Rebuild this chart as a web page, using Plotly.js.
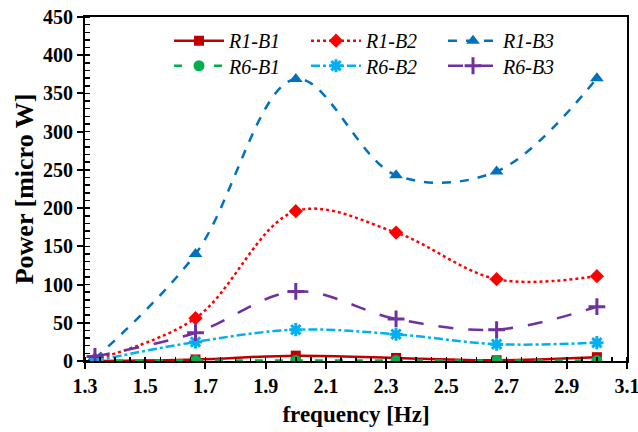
<!DOCTYPE html>
<html>
<head>
<meta charset="utf-8">
<script src="https://cdn.plot.ly/plotly-3.0.1.min.js"></script>
<style>html,body{margin:0;padding:0;background:#fff;}#chart{width:638px;height:432px;}</style>
</head>
<body>
<div id="chart"></div>
<script>
const frequency = [1.333, 1.667, 2.0, 2.333, 2.667, 3.0];
const seriesNames = ["R1-B1", "R1-B2", "R1-B3", "R6-B1", "R6-B2", "R6-B3"];
const R1_B1 = [0, 2, 7, 4, 1, 5];
const R1_B2 = [2, 56, 196, 168, 107, 111];
const R1_B3 = [3, 140, 369, 243, 248, 370];
const R6_B1 = [0.5, 0.5, 0.5, 0.5, 0.5, 0.5];
const R6_B2 = [0, 25, 41, 35, 22, 24];
const R6_B3 = [6, 37, 91, 55, 41, 71];
const xTicks = [1.3, 1.5, 1.7, 1.9, 2.1, 2.3, 2.5, 2.7, 2.9, 3.1];
const yTicks = [0, 50, 100, 150, 200, 250, 300, 350, 400, 450];

const values = [R1_B1, R1_B2, R1_B3, R6_B1, R6_B2, R6_B3];
const styles = [
  {color: '#C00000', dash: 'solid', symbol: 'square', size: 10, mline: 0, legend: 'legend'},
  {color: '#FF0000', dash: 'dot', symbol: 'diamond', size: 11, mline: 0, legend: 'legend'},
  {color: '#0070C0', dash: 'dash', symbol: 'triangle-up', size: 12, mline: 0, legend: 'legend'},
  {color: '#00B050', dash: '8px,12px', symbol: 'circle', size: 11, mline: 0, legend: 'legend2'},
  {color: '#00B0F0', dash: 'dashdot', symbol: 'asterisk-open', size: 11, mline: 3, legend: 'legend2'},
  {color: '#7030A0', dash: 'longdash', symbol: 'cross-thin-open', size: 12, mline: 3, legend: 'legend2'}
];

const traces = values.map((v, i) => ({
  x: frequency, y: v, name: seriesNames[i], type: 'scatter', mode: 'lines+markers',
  legend: styles[i].legend,
  line: {color: styles[i].color, dash: styles[i].dash, width: 2.5, shape: 'spline', smoothing: 1},
  marker: {symbol: styles[i].symbol, size: styles[i].size, color: styles[i].color,
           line: {color: styles[i].color, width: styles[i].mline}}
}));

const serif = 'Liberation Serif, Times New Roman, serif';
const tickFont = {family: serif, size: 20, color: '#000', weight: 'bold'};
const legendFont = {family: serif, size: 20, style: 'italic', color: '#000'};
const legendBase = {orientation: 'h', xanchor: 'left', yanchor: 'top', entrywidth: 72, itemwidth: 50,
                    bgcolor: 'rgba(0,0,0,0)', font: legendFont};

const layout = {
  width: 638, height: 432,
  margin: {l: 85, r: 11, t: 17, b: 71},
  paper_bgcolor: '#fff', plot_bgcolor: '#fff',
  showlegend: true,
  legend: Object.assign({}, legendBase, {x: 0.155, y: 0.988}),
  legend2: Object.assign({}, legendBase, {x: 0.155, y: 0.915}),
  xaxis: {
    range: [1.3, 3.1], tickvals: xTicks, ticktext: xTicks.map(t => t.toFixed(1)),
    showgrid: false, zeroline: false, showline: true, linecolor: '#000', linewidth: 2, mirror: true,
    ticks: 'outside', ticklen: 6, tickwidth: 2, tickcolor: '#000', ticklabeloverflow: 'allow',
    minor: {ticks: 'inside', dtick: 0.05, tick0: 1.3, ticklen: 4, tickwidth: 1.5, tickcolor: '#000', showgrid: false},
    tickfont: tickFont,
    title: {text: 'frequency [Hz]', font: {family: serif, size: 23, color: '#000', weight: 'bold'}, standoff: 10}
  },
  yaxis: {
    range: [0, 450], tickvals: yTicks,
    showgrid: false, zeroline: false, showline: true, linecolor: '#000', linewidth: 2, mirror: true,
    ticks: 'outside', ticklen: 6, tickwidth: 2, tickcolor: '#000',
    minor: {ticks: 'inside', dtick: 10, ticklen: 5, tickwidth: 1.5, tickcolor: '#000', showgrid: false},
    tickfont: tickFont,
    title: {text: 'Power [micro W]', font: {family: serif, size: 26, color: '#000', weight: 'bold'}, standoff: 2}
  }
};

Plotly.newPlot('chart', traces, layout, {displayModeBar: false, staticPlot: true});
</script>
</body>
</html>
